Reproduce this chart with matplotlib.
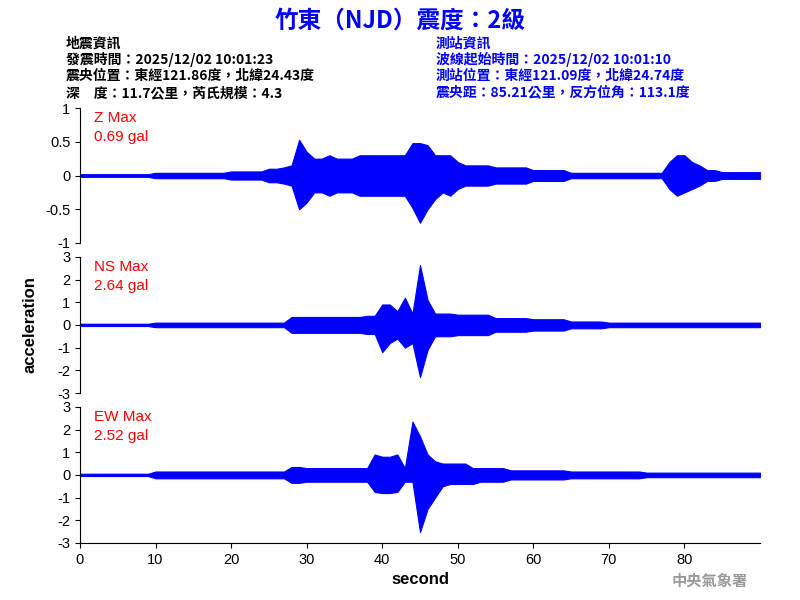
import matplotlib
matplotlib.use("Agg")
import matplotlib.pyplot as plt

plt.rcParams['font.family'] = ['Liberation Sans', 'Noto Sans CJK TC', 'DejaVu Sans']

# envelope per second (upper, lower)
z_up = [0.02]*10 + [0.04]*10 + [0.06]*5 + [0.1, 0.1, 0.12, 0.15, 0.53, 0.35, 0.25, 0.25, 0.3, 0.25, 0.25, 0.25, 0.3, 0.3, 0.3, 0.3, 0.3, 0.3,
        0.3, 0.48, 0.48, 0.45, 0.3, 0.3, 0.3, 0.2, 0.15, 0.15, 0.15, 0.15, 0.12, 0.12, 0.12, 0.12, 0.12, 0.08, 0.08, 0.08, 0.08, 0.08,
        0.04, 0.04, 0.04, 0.04, 0.04, 0.04, 0.04, 0.04, 0.04, 0.04, 0.04, 0.04, 0.04, 0.2, 0.3, 0.3, 0.2, 0.15, 0.08, 0.08, 0.05, 0.05, 0.05, 0.05, 0.05, 0.05]
z_lo = [-v for v in z_up]
z_lo[29] = -0.5; z_lo[30] = -0.4; z_lo[45] = -0.7; z_lo[46] = -0.5; z_lo[47] = -0.35; z_lo[48] = -0.25; z_lo[80] = -0.25

ns_up = [0.05]*10 + [0.1]*18 + [0.35]*10 + [0.4, 0.4, 0.9, 0.9, 0.6, 1.2, 0.5, 2.64, 1.1, 0.5, 0.5, 0.5, 0.45, 0.45, 0.45, 0.45,
         0.45, 0.3, 0.3, 0.3, 0.3, 0.3, 0.25, 0.25, 0.25, 0.25, 0.25, 0.15, 0.15, 0.15, 0.15, 0.15] + [0.1]*21
ns_lo = [-v for v in ns_up]
ns_lo[40] = -1.2; ns_lo[41] = -0.8; ns_lo[43] = -1.0; ns_lo[44] = -0.8; ns_lo[45] = -2.3

ew_up = [0.05]*10 + [0.15]*18 + [0.35, 0.35] + [0.3]*9 + [0.9, 0.8, 0.8, 0.9, 0.3, 2.35, 1.7, 0.9, 0.6, 0.5, 0.5, 0.5, 0.5,
         0.3, 0.3, 0.3, 0.3, 0.3, 0.2, 0.2, 0.2, 0.2, 0.2, 0.2, 0.2, 0.2, 0.15, 0.15, 0.15, 0.15, 0.15, 0.15, 0.15, 0.15, 0.15, 0.15] + [0.1]*16
ew_lo = [-v for v in ew_up]
ew_lo[39] = -0.75; ew_lo[42] = -0.75; ew_lo[44] = -0.3; ew_lo[45] = -2.52; ew_lo[46] = -1.5; ew_lo[47] = -1.0; ew_lo[48] = -0.5
for i in range(49, 53):
    ew_lo[i] = -0.4

labels = ["Z Max\n0.69 gal", "NS Max\n2.64 gal", "EW Max\n2.52 gal"]
limits = [1, 3, 3]
yticks = [[1, 0.5, 0, -0.5, -1], [3, 2, 1, 0, -1, -2, -3], [3, 2, 1, 0, -1, -2, -3]]
yticklabels = [["1", "0.5", "0", "-0.5", "-1"], [str(v) for v in yticks[1]], [str(v) for v in yticks[2]]]
xticks = [0, 10, 20, 30, 40, 50, 60, 70, 80]

fig = plt.figure(figsize=(8, 6), dpi=100)
rects = [(0.1, 0.595, 0.85, 0.225), (0.1, 0.345, 0.85, 0.227), (0.1, 0.095, 0.85, 0.227)]
series = [(z_up, z_lo), (ns_up, ns_lo), (ew_up, ew_lo)]
for i, (r, (up, lo)) in enumerate(zip(rects, series)):
    ax = fig.add_axes(r)
    t = list(range(len(up)))
    ax.fill_between(t, lo, up, color='#0000ff', linewidth=0.8, edgecolor='#0000ff')
    ax.plot(t, [0]*len(t), color='#0000ff', lw=1.5)
    ax.set_xlim(0, 90)
    ax.set_ylim(-limits[i], limits[i])
    ax.set_yticks(yticks[i])
    ax.set_yticklabels(yticklabels[i], fontsize=10.5)
    for s in ['top', 'right']:
        ax.spines[s].set_visible(False)
    if i < 2:
        ax.spines['bottom'].set_visible(False)
        ax.set_xticks([])
    else:
        ax.set_xticks(xticks)
        ax.tick_params(axis='x', labelsize=10.5)
        ax.set_xlabel("second", fontsize=12, fontweight='bold')
    ax.text(0.02, 0.98, labels[i], transform=ax.transAxes, color='red', fontsize=11,
            va='top', ha='left', linespacing=1.5)
    if i == 1:
        ax.set_ylabel("acceleration", fontsize=12, fontweight='bold', labelpad=14)

cjk = ['Noto Sans CJK TC', 'DejaVu Sans']
fig.text(0.5, 0.965, "竹東（NJD）震度：2級", color='#0000ff', fontsize=17, fontweight='bold',
         ha='center', va='center', family=cjk)
left = ["地震資訊", "發震時間：2025/12/02 10:01:23", "震央位置：東經121.86度，北緯24.43度", "深　度：11.7公里，芮氏規模：4.3"]
right = ["測站資訊", "波線起始時間：2025/12/02 10:01:10", "測站位置：東經121.09度，北緯24.74度", "震央距：85.21公里，反方位角：113.1度"]
for k, (a, b) in enumerate(zip(left, right)):
    y = 0.928 - k * 0.0275
    fig.text(0.082, y, a, fontsize=10, fontweight='bold', va='center', family=cjk)
    fig.text(0.545, y, b, fontsize=10, fontweight='bold', va='center', color='#0000ff', family=cjk)
fig.text(0.935, 0.033, "中央氣象署", color='#999999', fontsize=11, fontweight='bold', ha='right', va='center', family=cjk)

fig.savefig("out.png", dpi=100)
